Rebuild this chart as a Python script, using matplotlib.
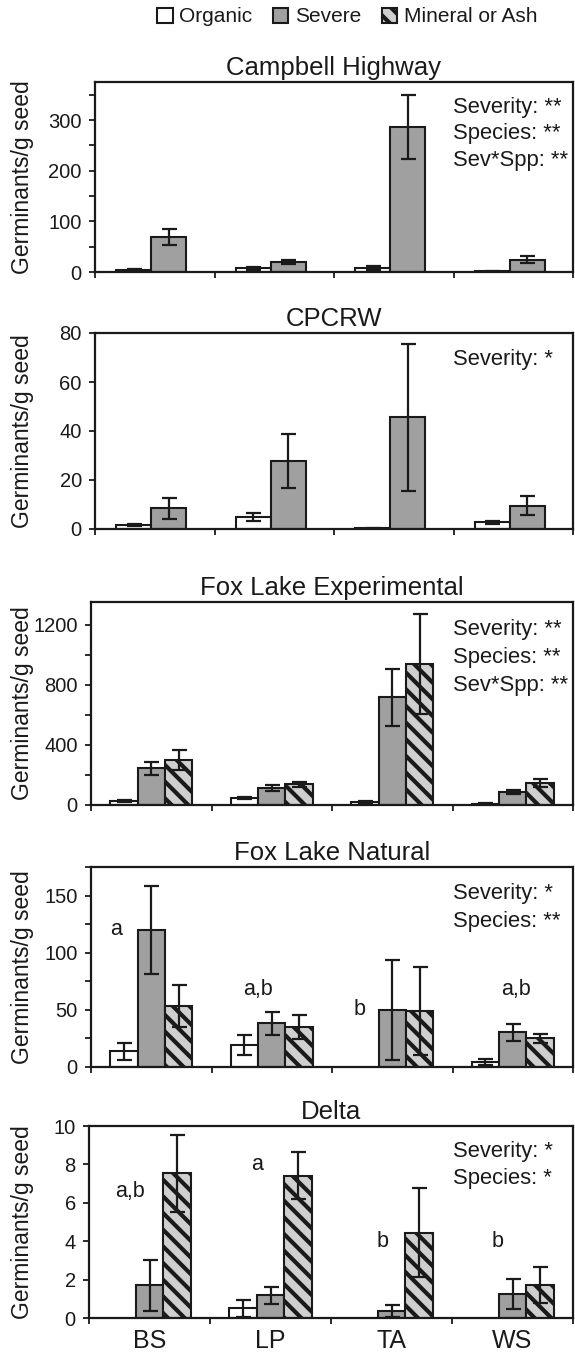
import matplotlib
matplotlib.use('Agg')
import matplotlib.pyplot as plt
from matplotlib.patches import Patch
from matplotlib.ticker import MultipleLocator
import numpy as np

plt.rcParams['font.family'] = ['Liberation Sans', 'DejaVu Sans']
plt.rcParams['hatch.linewidth'] = 3.0

# --- data ---
species = ['BS', 'LP', 'TA', 'WS']
sites = ['Campbell Highway', 'CPCRW', 'Fox Lake Experimental',
         'Fox Lake Natural', 'Delta']
series_names = ['Organic', 'Severe', 'Mineral or Ash']

campbell_org = [4, 7, 8, 1]
campbell_org_err = [2, 3, 4, 0.5]
campbell_sev = [69, 20, 287, 24]
campbell_sev_err = [16, 4, 63, 7]

cpcrw_org = [1.7, 5.0, 0.4, 2.7]
cpcrw_org_err = [0.5, 1.6, 0.2, 0.7]
cpcrw_sev = [8.4, 27.9, 45.7, 9.5]
cpcrw_sev_err = [4.4, 11, 30, 3.8]

foxexp_org = [25, 45, 18, 8]
foxexp_org_err = [8, 8, 8, 3]
foxexp_sev = [243, 112, 715, 86]
foxexp_sev_err = [45, 18, 188, 12]
foxexp_min = [300, 139, 938, 148]
foxexp_min_err = [65, 16, 330, 28]

foxnat_org = [13.7, 19, 0, 4.7]
foxnat_org_err = [7.4, 8.9, 0, 2.6]
foxnat_sev = [119.6, 38.2, 49.9, 30.3]
foxnat_sev_err = [38.5, 10, 44, 7.4]
foxnat_min = [53.4, 35, 49, 25]
foxnat_min_err = [18.4, 10.8, 38.7, 3.6]

delta_org = [0, 0.5, 0, 0]
delta_org_err = [0, 0.43, 0, 0]
delta_sev = [1.7, 1.19, 0.38, 1.26]
delta_sev_err = [1.33, 0.44, 0.32, 0.78]
delta_min = [7.53, 7.42, 4.45, 1.73]
delta_min_err = [2.0, 1.22, 2.3, 0.94]

stats = [['Severity: **', 'Species: **', 'Sev*Spp: **'],
         ['Severity: *'],
         ['Severity: **', 'Species: **', 'Sev*Spp: **'],
         ['Severity: *', 'Species: **'],
         ['Severity: *', 'Species: *']]

foxnat_letters = ['a', 'a,b', 'b', 'a,b']
foxnat_letter_y = [120, 68, 50, 68]
delta_letters = ['a,b', 'a', 'b', 'b']
delta_letter_y = [6.6, 8.0, 4.0, 4.0]

ymax = [375, 80, 1350, 175, 10]
ymajor = [100, 20, 400, 50, 2]
yminor = [50, None, 200, 25, None]

panels = [
    [(campbell_org, campbell_org_err), (campbell_sev, campbell_sev_err)],
    [(cpcrw_org, cpcrw_org_err), (cpcrw_sev, cpcrw_sev_err)],
    [(foxexp_org, foxexp_org_err), (foxexp_sev, foxexp_sev_err), (foxexp_min, foxexp_min_err)],
    [(foxnat_org, foxnat_org_err), (foxnat_sev, foxnat_sev_err), (foxnat_min, foxnat_min_err)],
    [(delta_org, delta_org_err), (delta_sev, delta_sev_err), (delta_min, delta_min_err)],
]
letters = {3: (foxnat_letters, foxnat_letter_y, [-0.29, -0.11, -0.27, 0.03]),
           4: (delta_letters, delta_letter_y, [-0.165, -0.11, -0.075, -0.12])}

# --- styling ---
ink = '#1a1a1a'
fills = ['white', '#a0a0a0', '#cfcfcf']
hatches = [None, None, '\\\\']

W, H = 575, 1360
# left, top, bottom in pixels
boxes = [(95, 82, 272), (95, 333, 529), (91, 602, 805), (91, 867, 1067), (89, 1126, 1318)]
right = 573

fig = plt.figure(figsize=(W / 100, H / 100), dpi=100)
x = np.arange(len(species))

for i, (l, t, b) in enumerate(boxes):
    ax = fig.add_axes([l / W, 1 - b / H, (right - l) / W, (b - t) / H])
    series = panels[i]
    if len(series) == 2:
        width = 0.292
        offsets = [-0.175, 0.117]
    else:
        width = 0.227
        offsets = [-0.227, 0, 0.227]
    for k, (vals, errs) in enumerate(series):
        vals = np.array(vals, float)
        errs = np.array(errs, float)
        keep = vals > 0
        ax.bar(x[keep] + offsets[k], vals[keep], width=width, color=fills[k],
               edgecolor=ink, linewidth=1.5, hatch=hatches[k], zorder=2)
        ax.errorbar(x[keep] + offsets[k], vals[keep], yerr=errs[keep], fmt='none',
                    ecolor=ink, elinewidth=1.6, capsize=5.4, capthick=1.6, zorder=3)

    ax.set_xlim(-0.5, 3.5)
    ax.set_ylim(0, ymax[i])
    ax.yaxis.set_major_locator(MultipleLocator(ymajor[i]))
    if yminor[i]:
        ax.yaxis.set_minor_locator(MultipleLocator(yminor[i]))
    ax.tick_params(axis='y', which='both', direction='out', length=4.5, width=1.3,
                   color=ink, labelsize=14.5, labelcolor=ink, pad=5)
    ax.set_xticks(np.arange(-0.5, 4, 1.0))
    ax.set_xticklabels([])
    ax.tick_params(axis='x', which='major', direction='out', length=4.5, width=1.3, color=ink)
    if i == len(boxes) - 1:
        ax.set_xticks(x, minor=True)
        ax.set_xticklabels(species, minor=True)
        ax.tick_params(axis='x', which='minor', length=0, labelsize=18, labelcolor=ink, pad=8)
    for s in ax.spines.values():
        s.set_linewidth(1.6)
        s.set_color(ink)

    ax.set_title(sites[i], fontsize=18.5, color=ink, pad=5)
    ax.set_ylabel('Germinants/g seed', fontsize=16.5, color=ink)
    ax.yaxis.set_label_coords((34 - l) / (right - l), 0.5)

    xa = (453 - l) / (right - l)
    for j, line in enumerate(stats[i]):
        ax.text(xa, 0.865 - j * 0.138, line, transform=ax.transAxes,
                ha='left', va='center', fontsize=15.8, color=ink)

    if i in letters:
        labs, ys, dx = letters[i]
        for c, (lab, yv, d) in enumerate(zip(labs, ys, dx)):
            ax.text(c + d, yv, lab, ha='center', va='center', fontsize=15.5, color=ink)

handles = [Patch(facecolor=fills[k], edgecolor=ink, linewidth=1.5, hatch=hatches[k])
           for k in range(3)]
fig.legend(handles, series_names, loc='center', bbox_to_anchor=(347 / W, 1 - 17 / H),
           ncol=3, frameon=False, fontsize=15, handlelength=0.75, handleheight=0.75,
           handletextpad=0.3, columnspacing=1.0, labelcolor=ink)

fig.savefig('out.png', dpi=100)
